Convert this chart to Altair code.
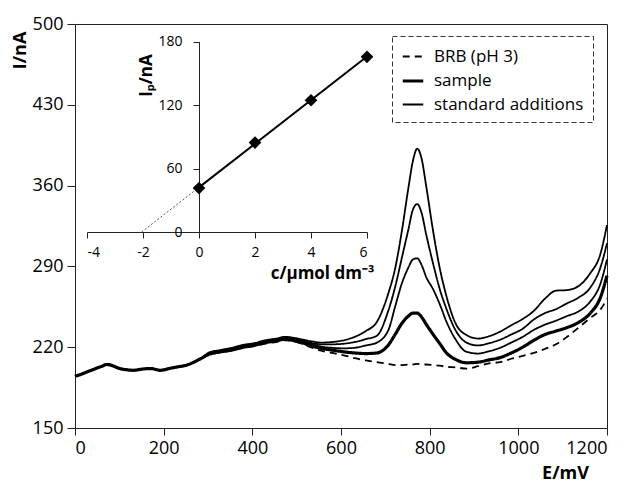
import altair as alt
import pandas as pd

# ---------------- main voltammograms ----------------
E_left = [0, 10, 20, 30, 40, 50, 61, 71, 81, 91, 101, 116, 131, 151, 172, 192, 212, 232, 252, 268, 283]
I_left = [195, 196, 197.5, 199, 200.5, 202, 203.5, 205, 204.5, 203, 201.5, 200.5, 200, 201, 201.5, 200,
          201.5, 203, 204.5, 207, 210]

E_right = [303, 328, 353, 379, 404, 429, 454, 474, 495, 515, 535, 555, 580, 606, 631, 656, 681, 707,
           722, 737, 752, 762, 772, 782, 792, 808, 823, 838, 858, 883, 909, 934, 959, 984, 1010,
           1035, 1060, 1085, 1110, 1136, 1161, 1186, 1200]

add_3 = [215.5, 217.5, 219.5, 222, 223.5, 226, 227.5, 229, 228, 226.5, 225, 224,
         224.5, 226, 229, 234, 242, 267, 288, 320, 358, 381, 392, 383, 360,
         320, 288, 264, 241, 230.5, 227.5, 229.5, 233.5, 239, 244.5,
         251.5, 262, 269, 269.5, 273, 283.5, 302, 326]
add_2 = [215, 217, 218.5, 221, 222.5, 225, 226.5, 228, 227, 225.5, 223.5, 222.5,
         222.5, 223, 224.5, 227, 230, 252, 272, 297, 322, 339, 344, 336, 318,
         292, 270, 253, 235, 224, 221.5, 223.5, 226.5, 231, 236,
         244, 249.5, 253, 258, 263, 271, 290, 310]
add_1 = [214.5, 216.5, 218, 220.5, 222, 224.5, 226, 227.5, 226.5, 224.5, 222.5, 220.5,
         219.5, 219, 219.5, 221.5, 224, 235, 255, 275, 289, 296, 297, 291, 281,
         270, 257, 242, 227, 216, 214.5, 216.5, 219.5, 224, 229,
         235, 239.5, 243, 247, 251, 259, 276, 296]
sample = [214, 216, 217.5, 220, 221.5, 224, 225.5, 227, 225.5, 223.5, 221, 219,
          217.5, 216, 215, 214.5, 215, 222, 231, 240.5, 247, 249.5, 249.5, 246, 240,
          231, 223, 215, 209.5, 206.5, 207, 209, 211, 215, 220,
          226, 231, 234, 237, 241.5, 249, 264, 282]
brb = [213.5, 215.5, 217, 219.5, 221, 223, 224.5, 226, 225, 222.5, 219.5, 217,
       215, 213, 210.5, 208.5, 207, 205.5, 204.5, 204.5, 205, 205, 205.5, 205, 205,
       204.5, 204, 203, 202.5, 201.5, 203.5, 206, 207, 210, 212.5,
       215, 218.5, 222.5, 229, 237, 245, 253, 262]

type_domain = ["BRB (pH 3)", "sample", "standard additions"]
curves = [
    ("brb", "BRB (pH 3)", brb),
    ("add1", "standard additions", add_1),
    ("add2", "standard additions", add_2),
    ("add3", "standard additions", add_3),
    ("sample", "sample", sample),
]
rows = []
for cid, kind, vals in curves:
    for e, i in zip(E_left + E_right, I_left + vals):
        rows.append({"E": e, "I": i, "curve": cid, "type": kind})
df_main = pd.DataFrame(rows)

# ---------------- inset: standard additions plot ----------------
c_vals = [0, 2, 4, 6]
Ip_vals = [41.5, 84.5, 124.5, 165.5]
df_inset = pd.DataFrame({"c": c_vals, "Ip": Ip_vals})

FONT = "Open Sans"

legend = alt.Legend(
    title=None, orient="none", legendX=317, legendY=12,
    symbolType="stroke", symbolSize=420, symbolStrokeColor="black",
    labelFontSize=17, labelFont=FONT, labelColor="black",
    padding=9, rowPadding=4, labelOffset=9,
    strokeColor="#333", fillColor="white",
)

main_x = alt.X(
    "E:Q",
    scale=alt.Scale(domain=[0, 1200], nice=False, zero=False),
    axis=alt.Axis(values=[0, 200, 400, 600, 800, 1000, 1200], title="E/mV", grid=False,
                  labelExpr="'' + datum.value",
                  labelFontSize=18, titleFontSize=18, titleFontWeight="bold",
                  tickSize=7, labelPadding=4, titleX=490, titleY=45,
                  titleAlign="center", titleBaseline="middle", orient="bottom"),
)
main_y = alt.Y(
    "I:Q",
    scale=alt.Scale(domain=[150, 500], nice=False, zero=False),
    axis=alt.Axis(values=[150, 220, 290, 360, 430, 500], title="I/nA", grid=False,
                  labelFontSize=18, titleFontSize=18, titleFontWeight="bold",
                  tickSize=8, labelPadding=4, titleX=-55, titleY=26, titleAngle=270,
                  titleAlign="center", titleBaseline="middle", orient="left"),
)

lines = alt.Chart(df_main).mark_line(color="black", strokeJoin="round", interpolate="monotone").encode(
    x=main_x,
    y=main_y,
    detail="curve:N",
    strokeDash=alt.StrokeDash("type:N", scale=alt.Scale(domain=type_domain, range=[[7, 5], [1, 0], [1, 0]]),
                              legend=legend),
    strokeWidth=alt.StrokeWidth("type:N",
                                scale=alt.Scale(type="ordinal", domain=type_domain, range=[1.8, 3.2, 1.8]),
                                legend=legend),
)

inset_x = alt.X(
    "c:Q",
    scale=alt.Scale(domain=[-4, 6], range=[12, 292], nice=False, zero=False),
    axis=alt.Axis(orient="bottom", offset=-196, values=[-4, -2, 0, 2, 4, 6], title="c/µmol dm⁻³",
                  labelExpr="'' + datum.value",
                  grid=False, labelFontSize=14, titleFontSize=17, titleFontWeight="bold",
                  tickSize=6, labelPadding=7, titleX=247, titleY=41,
                  titleAlign="center", titleBaseline="middle"),
)
inset_y = alt.Y(
    "Ip:Q",
    scale=alt.Scale(domain=[0, 180], range=[208, 17.5], nice=False, zero=False),
    axis=alt.Axis(orient="left", offset=-124, values=[0, 60, 120, 180], title="Iₚ/nA",
                  grid=False, labelFontSize=14, titleFontSize=17, titleFontWeight="bold",
                  tickSize=6, labelPadding=11, titleX=-53, titleY=51, titleAngle=270,
                  titleAlign="center", titleBaseline="middle"),
)

base_inset = alt.Chart(df_inset)
dotted = base_inset.transform_regression("c", "Ip", extent=[-2.05, 0]).mark_line(
    color="#555", strokeWidth=1, strokeDash=[2, 2]).encode(x=inset_x, y=inset_y)
fit = base_inset.transform_regression("c", "Ip", extent=[0, 6]).mark_line(
    color="black", strokeWidth=2).encode(x=inset_x, y=inset_y)
pts = base_inset.mark_point(shape="diamond", filled=True, size=160, color="black", opacity=1).encode(
    x=inset_x, y=inset_y)

inset = alt.layer(dotted, fit, pts)

chart = alt.layer(lines, inset).resolve_scale(x="independent", y="independent").resolve_axis(
    x="independent", y="independent"
).properties(
    width=532, height=404,
    autosize=alt.AutoSizeParams(type="none"),
    padding={"left": 67, "top": 16, "right": 18, "bottom": 55},
).configure_axis(
    labelFont=FONT, titleFont=FONT, labelColor="black", titleColor="black",
    domainColor="#222", tickColor="#222", domainWidth=1, tickWidth=1,
).configure_legend(
    strokeDash=[5, 3], strokeWidth=1,
).configure_view(stroke="#222", strokeWidth=1)

chart.save("out.html", embed_options={"renderer": "svg", "actions": False})
